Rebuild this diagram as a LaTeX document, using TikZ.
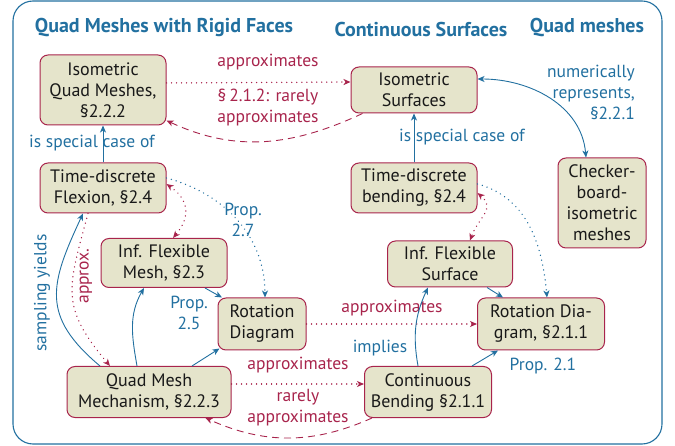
\documentclass[tikz,border=0pt]{standalone}
\usepackage{fontspec}
\setmainfont{PT Sans}
\usetikzlibrary{arrows.meta}
\definecolor{cblue}{RGB}{34,112,160}
\definecolor{cred}{RGB}{168,36,76}
\definecolor{cfill}{RGB}{229,228,203}
\begin{document}
\begin{tikzpicture}[x=1pt,y=-1pt,
  box/.style={draw=cred, fill=cfill, line width=1pt, rounded corners=8pt, align=center, inner sep=1pt, text=black!90, font=\fontsize{18}{21}\selectfont},
  lab/.style={align=center, inner sep=1pt, font=\fontsize{17.5}{21}\selectfont},
  bluelab/.style={lab, text=cblue},
  redlab/.style={lab, text=cred},
  titlelab/.style={inner sep=1pt, text=cblue, font=\fontsize{20}{22}\selectfont\bfseries},
  >={Stealth[length=7pt,width=6pt,inset=2pt]},
  bluearr/.style={draw=cblue, line width=0.9pt},
  redarr/.style={draw=cred, line width=0.9pt},
  dotline/.style={dash pattern=on 0.01pt off 5pt, line cap=round, line width=1.5pt},
  dashline/.style={dash pattern=on 7pt off 5pt}
]
\useasboundingbox (0,0) rectangle (675,446);
\draw[cblue, line width=1.1pt, rounded corners=20pt] (13,1) rectangle (662,444);

% titles
\node[titlelab] (t1) at (164,28) {Quad Meshes with Rigid Faces};
\node[titlelab] (t2) at (421,30) {Continuous Surfaces};
\node[titlelab] (t3) at (587,28) {Quad meshes};

% nodes
\node[box, minimum width=126pt, minimum height=70pt] (iqm) at (103,90) {Isometric\\Quad Meshes,\\§2.2.2};
\node[box, minimum width=126pt, minimum height=46pt] (is) at (414,90) {Isometric\\Surfaces};
\node[box, minimum width=88pt, minimum height=90pt] (chk) at (602,203) {Checker-\\board-\\isometric\\meshes};
\node[box, minimum width=126pt, minimum height=50pt] (tdf) at (103,188) {Time-discrete\\Flexion, §2.4};
\node[box, minimum width=126pt, minimum height=50pt] (tdb) at (414,188) {Time-discrete\\bending, §2.4};
\node[box, minimum width=126pt, minimum height=49pt] (ifm) at (164,263) {Inf. Flexible\\Mesh, §2.3};
\node[box, minimum width=125pt, minimum height=46pt] (ifs) at (450,264) {Inf. Flexible\\Surface};
\node[box, minimum width=88pt, minimum height=52pt] (rdg) at (262,324) {Rotation\\Diagram};
\node[box, minimum width=127pt, minimum height=52pt] (rdh) at (541,324) {Rotation Dia-\\gram, §2.1.1};
\node[box, minimum width=164pt, minimum height=51pt] (qmm) at (149,392) {Quad Mesh\\Mechanism, §2.2.3};
\node[box, minimum width=127pt, minimum height=51pt] (cb) at (428,392) {Continuous\\Bending §2.1.1};

% labels
\node[redlab] (l1) at (268,62) {approximates};
\node[redlab] (l2) at (268,108) {§\,2.1.2: rarely\\approximates};
\node[bluelab] (l3) at (92,143) {is special case of};
\node[bluelab] (l4) at (462,137) {is special case of};
\node[bluelab, anchor=east, align=right] (l5) at (636,92) {numerically\\represents,\\§2.2.1};
\node[bluelab] (l6) at (243,220) {Prop.\\2.7};
\node[redlab, rotate=90] (l7) at (86,276) {approx.};
\node[bluelab, rotate=90] (l8) at (42,293) {sampling yields};
\node[bluelab] (l9) at (189,313) {Prop.\\2.5};
\node[redlab] (l10) at (392,308) {approximates};
\node[redlab] (l11) at (298,365) {approximates};
\node[redlab] (l12) at (298,408) {rarely\\approximates};
\node[bluelab] (l13) at (380,348) {implies};
\node[bluelab] (l14) at (543,366) {Prop. 2.1};

% top row
\draw[redarr, dotline, ->] ([yshift=7pt]iqm.east) -- ([yshift=8pt]is.west);
\draw[redarr, dashline, ->] ([xshift=12pt]is.south west) to[out=-155,in=-25] ([yshift=5pt]iqm.south east);
\draw[bluearr, ->] (tdf.north) -- (iqm.south);
\draw[bluearr, ->] (tdb.north) -- (is.south);
\draw[bluearr, <->] ([yshift=11pt]is.east) to[out=0,in=95] ([xshift=-16pt]chk.north);

% left cluster
\draw[bluearr, dotline, ->] ([yshift=10pt]tdf.east) to[out=-15,in=90] ([xshift=3pt]rdg.north);
\draw[redarr, dotline, <->] ([yshift=4pt]tdf.east) to[out=-35,in=50,looseness=1.3] ([xshift=9pt]ifm.north);
\draw[redarr, dotline, ->] ([xshift=-15pt]tdf.south) to[out=-105,in=130,looseness=1.3] ([xshift=-39pt]qmm.north);
\draw[bluearr, ->] ([xshift=-49pt]qmm.north) to[out=140,in=-115,looseness=1.3] ([xshift=-20pt]tdf.south);
\draw[bluearr, ->] ([xshift=-12pt]qmm.north) to[out=100,in=-120] ([xshift=-20pt]ifm.south);
\draw[bluearr, ->] ([xshift=41pt]ifm.south) -- ([xshift=-40pt]rdg.north);
\draw[bluearr, ->] ([xshift=43pt]qmm.north) -- ([shift={(2pt,2pt)}]rdg.south west);

% middle
\draw[redarr, dotline, ->] (rdg.east) -- (rdh.west);
\draw[redarr, dotline, ->] ([yshift=8pt]qmm.east) -- ([yshift=8pt]cb.west);
\draw[redarr, dashline, ->] ([xshift=8pt]cb.south west) to[out=-156,in=-24] ([xshift=-26pt]qmm.south east);

% right cluster
\draw[bluearr, ->] ([xshift=-10pt]cb.north) to[out=100,in=-115] ([xshift=-22pt]ifs.south);
\draw[bluearr, ->] ([xshift=37pt]ifs.south) -- ([xshift=-38pt]rdh.north);
\draw[bluearr, ->] ([xshift=44pt]cb.north) -- ([xshift=-43pt]rdh.south);
\draw[redarr, dotline, <->] ([yshift=-5pt]tdb.east) to[out=-40,in=70,looseness=1.3] ([xshift=20pt]ifs.north);
\draw[bluearr, dotline, ->] ([yshift=4pt]tdb.east) to[out=-15,in=95] ([xshift=6pt]rdh.north);
\end{tikzpicture}
\end{document}
